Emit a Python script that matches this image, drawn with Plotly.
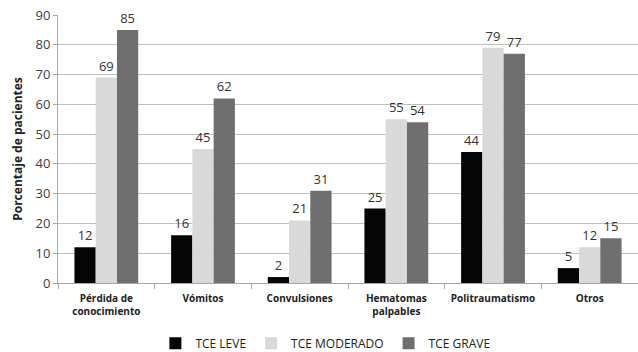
import plotly.graph_objects as go

categories = ["Pérdida de<br>conocimiento", "Vómitos", "Convulsiones",
              "Hematomas<br>palpables", "Politraumatismo", "Otros"]
tce_leve = [12, 16, 2, 25, 44, 5]
tce_moderado = [69, 45, 21, 55, 79, 12]
tce_grave = [85, 62, 31, 54, 77, 15]

series = [
    ("TCE LEVE", tce_leve, "#050505"),
    ("TCE MODERADO", tce_moderado, "#d9d9d9"),
    ("TCE GRAVE", tce_grave, "#6f6f6f"),
]

fig = go.Figure()
for name, vals, color in series:
    fig.add_trace(go.Bar(
        x=categories, y=vals, name=name,
        marker=dict(color=color, line=dict(width=0)),
        text=[str(v) for v in vals], textposition="outside",
        textfont=dict(size=13, color="#333333", family="Open Sans"),
        cliponaxis=False,
    ))

fig.update_layout(
    width=638, height=352,
    margin=dict(l=58, r=0, t=15, b=69),
    barmode="group", bargap=0.34, bargroupgap=0,
    plot_bgcolor="white", paper_bgcolor="white",
    font=dict(family="Open Sans", color="#333333"),
    legend=dict(orientation="h", xref="container", x=0.51, xanchor="center",
                yref="container", y=0.025, yanchor="middle",
                font=dict(size=12, color="#222222"),
                itemwidth=30, traceorder="normal"),
    yaxis=dict(range=[0, 90], dtick=10, showgrid=True, gridcolor="#bfbfbf",
               gridwidth=1, showline=True, linecolor="#a6a6a6",
               ticks="outside", ticklen=4, tickcolor="#a6a6a6",
               tickfont=dict(size=13, color="#404040"),
               title=dict(text="<b>Porcentaje de pacientes</b>",
                          font=dict(size=12, color="#222222"), standoff=10)),
    xaxis=dict(showline=True, linecolor="#a6a6a6", ticks="outside",
               tickson="boundaries", ticklen=5, tickcolor="#a6a6a6",
               ticklabelstandoff=6,
               tickfont=dict(size=10, color="#222222", family="Open Sans"),
               tickprefix="<b>", ticksuffix="</b>"),
)

fig.write_html("out.html")
